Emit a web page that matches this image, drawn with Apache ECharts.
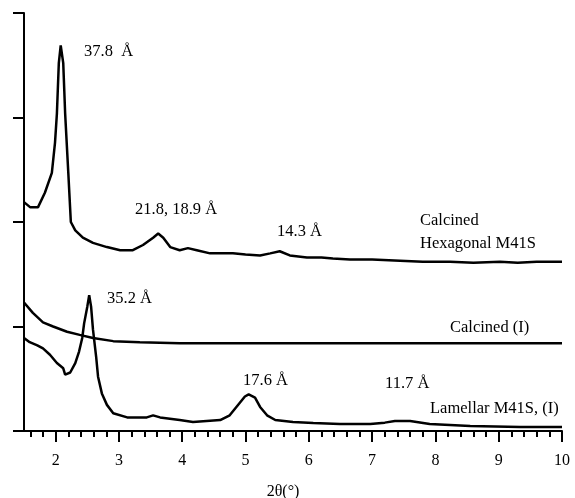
<!DOCTYPE html>
<html>
<head>
<meta charset="utf-8">
<script src="https://cdn.jsdelivr.net/npm/echarts@6/dist/echarts.min.js"></script>
<style>
  html, body { margin: 0; padding: 0; background: #fff; }
  #chart-panel { width: 575px; height: 498px; }
</style>
</head>
<body>
<div id="chart-panel"></div>
<script>
// 2theta ticks
var majorTicks = [2, 3, 4, 5, 6, 7, 8, 9, 10];
var minorTicks = [1.6, 1.8, 2.2, 2.4, 2.6, 2.8, 3.2, 3.4, 3.6, 3.8, 4.2, 4.4, 4.6, 4.8,
    5.2, 5.4, 5.6, 5.8, 6.2, 6.4, 6.6, 6.8, 7.2, 7.4, 7.6, 7.8, 8.2, 8.4, 8.6, 8.8,
    9.2, 9.4, 9.6, 9.8];

// Calcined Hexagonal M41S
var hexX = [1.5, 1.6, 1.72, 1.83, 1.94, 1.99, 2.02, 2.05, 2.08, 2.12, 2.15, 2.2, 2.24, 2.31,
    2.43, 2.59, 2.81, 3.02, 3.22, 3.38, 3.54, 3.62, 3.7, 3.81, 3.96, 4.09, 4.23, 4.44,
    4.8, 5.0, 5.23, 5.39, 5.54, 5.7, 5.97, 6.2, 6.38, 6.65, 7.0, 7.44, 7.8, 8.23, 8.6,
    9.02, 9.3, 9.6, 10];
var hexY = [2.19, 2.14, 2.14, 2.28, 2.47, 2.76, 3.04, 3.52, 3.69, 3.52, 3.04, 2.47, 2.0, 1.92,
    1.85, 1.8, 1.76, 1.73, 1.73, 1.78, 1.85, 1.89, 1.85, 1.76, 1.73, 1.75, 1.73, 1.7,
    1.7, 1.69, 1.68, 1.7, 1.72, 1.68, 1.66, 1.66, 1.65, 1.64, 1.64, 1.63, 1.62, 1.62, 1.61,
    1.62, 1.61, 1.62, 1.62];

// Calcined (I)
var calX = [1.5, 1.64, 1.8, 1.96, 2.18, 2.38, 2.59, 2.91, 3.33, 3.96, 5.0, 6.0, 7.0, 8.0, 9.0, 10];
var calY = [1.23, 1.13, 1.04, 1.0, 0.95, 0.92, 0.89, 0.86, 0.85, 0.84, 0.84, 0.84, 0.84, 0.84, 0.84, 0.84];

// Lamellar M41S, (I)
var lamX = [1.5, 1.59, 1.71, 1.8, 1.91, 2.02, 2.12, 2.15, 2.23, 2.31, 2.37, 2.42, 2.45, 2.5,
    2.53, 2.56, 2.59, 2.64, 2.67, 2.73, 2.81, 2.91, 3.13, 3.44, 3.54, 3.65, 3.96, 4.17,
    4.6, 4.75, 4.91, 4.99, 5.05, 5.15, 5.23, 5.34, 5.47, 5.75, 6.07, 6.49, 6.97, 7.2,
    7.36, 7.6, 7.91, 8.55, 9.34, 10];
var lamY = [0.89, 0.85, 0.82, 0.79, 0.73, 0.65, 0.6, 0.54, 0.56, 0.65, 0.76, 0.89, 1.03, 1.19,
    1.3, 1.19, 0.97, 0.71, 0.52, 0.36, 0.25, 0.17, 0.13, 0.13, 0.15, 0.13, 0.105, 0.086,
    0.105, 0.15, 0.27, 0.33, 0.35, 0.32, 0.23, 0.15, 0.105, 0.086, 0.077, 0.067, 0.067, 0.08,
    0.096, 0.096, 0.067, 0.048, 0.038, 0.038];

function pairs(xs, ys) {
    return xs.map(function (x, i) { return [x, ys[i]]; });
}

var serif = '"Liberation Serif", "DejaVu Serif", serif';
var black = '#000';

function note(txt, x, y) {
    return {
        type: 'text', x: x, y: y, silent: true,
        style: { text: txt, font: '16.5px ' + serif, fill: black, align: 'left', verticalAlign: 'middle' }
    };
}

var myChart = echarts.init(document.getElementById('chart-panel'));

var lineStyle = { color: black, width: 2.5 };

var option = {
    animation: false,
    backgroundColor: '#fff',
    grid: { left: 24, right: 13, top: 13, bottom: 67, containLabel: false, outerBoundsMode: 'none' },
    xAxis: [{
        type: 'value', min: 1.5, max: 10, position: 'bottom',
        axisLine: { lineStyle: { color: black, width: 2 } },
        axisTick: { customValues: majorTicks, length: 11, lineStyle: { color: black, width: 2 } },
        axisLabel: { customValues: majorTicks, color: black, fontFamily: serif, fontSize: 16, margin: 22 },
        splitLine: { show: false },
        name: '2θ(°)', nameLocation: 'middle', nameGap: 53,
        nameTextStyle: { color: black, fontFamily: serif, fontSize: 16, padding: [0, 20, 0, 0] }
    }, {
        type: 'value', min: 1.5, max: 10, position: 'bottom', offset: 0,
        axisLine: { show: false },
        axisTick: { customValues: minorTicks, length: 6, lineStyle: { color: black, width: 2 } },
        axisLabel: { show: false },
        splitLine: { show: false }
    }],
    yAxis: {
        type: 'value', min: 0, max: 4, interval: 1,
        axisLine: { show: true, lineStyle: { color: black, width: 2 } },
        axisTick: { show: true, length: 11, lineStyle: { color: black, width: 2 } },
        axisLabel: { show: false },
        splitLine: { show: false }
    },
    series: [
        { name: 'Calcined Hexagonal M41S', type: 'line', data: pairs(hexX, hexY), showSymbol: false, lineStyle: lineStyle },
        { name: 'Calcined (I)', type: 'line', data: pairs(calX, calY), showSymbol: false, lineStyle: lineStyle },
        { name: 'Lamellar M41S, (I)', type: 'line', data: pairs(lamX, lamY), showSymbol: false, lineStyle: lineStyle }
    ],
    graphic: [
        note('37.8  Å', 84, 52),
        note('21.8, 18.9 Å', 135, 210),
        note('14.3 Å', 277, 232),
        note('Calcined', 420, 221),
        note('Hexagonal M41S', 420, 244),
        note('35.2 Å', 107, 299),
        note('Calcined (I)', 450, 328),
        note('17.6 Å', 243, 381),
        note('11.7 Å', 385, 384),
        note('Lamellar M41S, (I)', 430, 409)
    ]
};

myChart.setOption(option);
</script>
</body>
</html>
